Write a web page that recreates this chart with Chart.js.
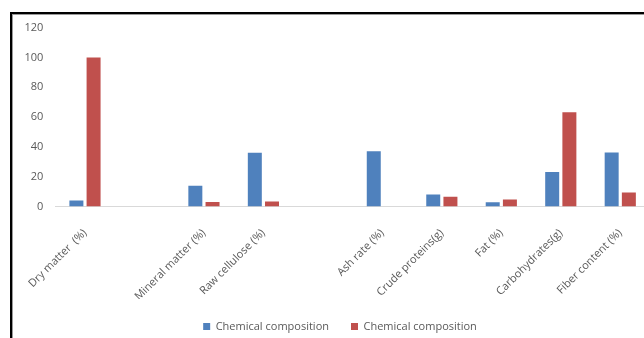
<!DOCTYPE html>
<html>
<head>
<meta charset="utf-8">
<script src="https://cdn.jsdelivr.net/npm/chart.js@4.4.1/dist/chart.umd.min.js"></script>
<style>
  html, body { margin: 0; padding: 0; width: 644px; height: 338px; overflow: hidden; background: #fff; }
  #frame {
    position: absolute; left: 10px; top: 12px; width: 700px; height: 400px;
    border-left: 2px solid #000; border-top: 2px solid #000;
    box-shadow: inset 1px 1px 0 #9a9a9a;
  }
  #chart { position: absolute; left: 0; top: 0; }
</style>
</head>
<body>
<div id="frame"></div>
<canvas id="chart" width="650" height="342"></canvas>
<script>
// Category labels (blank entries keep the empty slots on the axis)
const categories = [
  'Dry matter  (%)', '', 'Mineral matter (%)', 'Raw cellulose (%)', '',
  'Ash rate (%)', 'Crude proteins(g)', 'Fat (%)', 'Carbohydrates(g)', 'Fiber content (%)'
];
const seriesA = [4, null, 14, 36, null, 37, 8.1, 2.9, 23.1, 36.2];
const seriesB = [100, null, 3, 3.4, null, null, 6.5, 4.7, 63.2, 9.4];
const seriesNames = ['Chemical composition', 'Chemical composition'];
const yTicks = [0, 20, 40, 60, 80, 100, 120];

const textColor = '#595959';
const font = { family: '"Open Sans", sans-serif', size: 11 };

// Widen the value-axis box to the left after layout so its labels are not clipped,
// while the legend stays centred on the padded layout width.
const widenValueAxis = {
  id: 'widenValueAxis',
  afterLayout(chart) { chart.scales.y.left -= 12; }
};

new Chart(document.getElementById('chart'), {
  type: 'bar',
  data: {
    labels: categories,
    datasets: [
      { label: seriesNames[0], data: seriesA, backgroundColor: '#4f81bd', borderWidth: 0 },
      { label: seriesNames[1], data: seriesB, backgroundColor: '#c0504d', borderWidth: 0 }
    ]
  },
  plugins: [widenValueAxis],
  options: {
    responsive: false,
    animation: false,
    devicePixelRatio: 1,
    datasets: { bar: { categoryPercentage: 0.578, barPercentage: 0.814 } },
    layout: { padding: { left: 30, right: 0, top: 27.6, bottom: 0 } },
    plugins: {
      tooltip: { enabled: false },
      legend: {
        position: 'bottom',
        labels: { color: textColor, font: font, boxWidth: 7, boxHeight: 7, padding: 22 }
      }
    },
    scales: {
      x: {
        grid: { display: false, drawTicks: false },
        border: { display: true, color: '#d9d9d9', width: 1 },
        ticks: { color: textColor, font: font, autoSkip: false, minRotation: 45, maxRotation: 45, padding: 20 },
        afterFit(scale) { scale.height = 92.5; scale.paddingLeft = 0; scale.paddingRight = 0; }
      },
      y: {
        min: 0, max: 120,
        grid: { display: false, drawTicks: false },
        border: { display: false },
        afterBuildTicks(scale) { scale.ticks = yTicks.map(v => ({ value: v })); },
        ticks: { color: textColor, font: font, padding: 12 },
        afterFit(scale) { scale.width = 25.25; scale.paddingTop = 0; scale.paddingBottom = 0; }
      }
    }
  }
});
</script>
</body>
</html>
